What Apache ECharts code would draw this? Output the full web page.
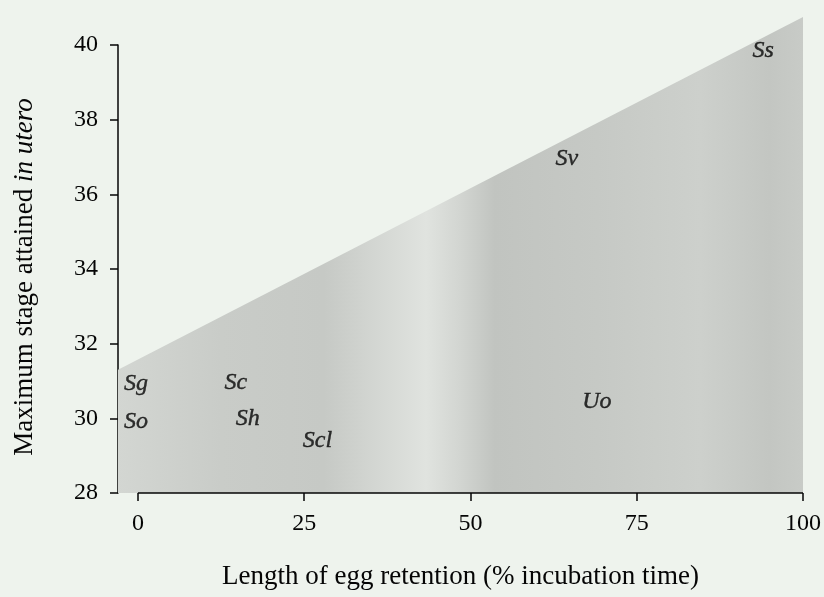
<!DOCTYPE html>
<html>
<head>
<meta charset="utf-8">
<script src="https://cdn.jsdelivr.net/npm/echarts@6/dist/echarts.min.js"></script>
<style>
html,body{margin:0;padding:0;background:#eef3ed;}
#c{width:824px;height:597px;}
</style>
</head>
<body>
<div id="c"></div>
<script>
// Upper bound of the shaded region (x = % incubation time, y = stage)
const boundX = [-3, 100];
const boundY = [31.3, 40.75];
// Species labels
const speciesNames = ["Sg", "So", "Sc", "Sh", "Scl", "Uo", "Sv", "Ss"];
const speciesX = [-0.3, -0.3, 14.7, 16.5, 27, 69, 64.5, 94];
const speciesY = [30.93, 29.92, 30.96, 30.0, 29.41, 30.45, 36.96, 39.84];
// Tick values
const xTicks = [0, 25, 50, 75, 100];
const yMin = 28, yMax = 40, yStep = 2;

const chart = echarts.init(document.getElementById('c'), null, {renderer: 'canvas'});
const serif = '"Liberation Serif", "DejaVu Serif", serif';
const ink = '#050505';

const option = {
  backgroundColor: '#eef3ed',
  animation: false,
  grid: {left: 118, right: 19, top: 45, bottom: 104},
  xAxis: {
    type: 'value', min: -3, max: 100,
    axisLine: {show: false},
    splitLine: {show: false},
    axisTick: {show: true, length: 8, customValues: xTicks, lineStyle: {color: ink, width: 1.5}},
    axisLabel: {customValues: xTicks, margin: 19, color: ink, fontFamily: serif, fontSize: 24},
    name: 'Length of egg retention (% incubation time)',
    nameLocation: 'middle', nameGap: 70,
    nameTextStyle: {color: ink, fontFamily: serif, fontSize: 27}
  },
  yAxis: {
    type: 'value', min: yMin, max: yMax, interval: yStep,
    axisLine: {show: true, onZero: false, lineStyle: {color: ink, width: 1.5}},
    splitLine: {show: false},
    axisTick: {show: true, length: 8, lineStyle: {color: ink, width: 1.5}},
    axisLabel: {margin: 20, color: ink, fontFamily: serif, fontSize: 24},
    name: '{a|Maximum stage attained }{b|in utero}',
    nameLocation: 'middle', nameGap: 80, nameRotate: 90,
    nameTextStyle: {
      color: ink, fontFamily: serif, fontSize: 27,
      padding: [0, 16, 0, 0],
      rich: {
        a: {fontFamily: serif, fontSize: 27, color: ink},
        b: {fontFamily: serif, fontSize: 27, color: ink, fontStyle: 'italic'}
      }
    }
  },
  series: [
    {
      type: 'line',
      data: boundX.map((x, i) => [x, boundY[i]]),
      symbol: 'none',
      clip: false,
      lineStyle: {width: 0},
      silent: true,
      areaStyle: {
        origin: 'start',
        opacity: 1,
        color: new echarts.graphic.LinearGradient(0, 0, 1, 0, [
          {offset: 0.00, color: '#d3d6d2'},
          {offset: 0.15, color: '#c9ccc8'},
          {offset: 0.30, color: '#c6c9c5'},
          {offset: 0.38, color: '#d4d7d3'},
          {offset: 0.45, color: '#e0e3df'},
          {offset: 0.50, color: '#d2d5d1'},
          {offset: 0.55, color: '#c1c4c0'},
          {offset: 0.70, color: '#c6c9c5'},
          {offset: 0.85, color: '#cdd0cc'},
          {offset: 0.95, color: '#c3c6c2'},
          {offset: 1.00, color: '#c8cbc7'}
        ])
      },
      z: 1
    },
    {
      type: 'line',
      data: [[xTicks[0], yMin], [xTicks[xTicks.length - 1], yMin]],
      symbol: 'none',
      silent: true,
      clip: false,
      lineStyle: {color: ink, width: 1.5},
      z: 5
    },
    {
      type: 'scatter',
      data: speciesNames.map((n, i) => ({name: n, value: [speciesX[i], speciesY[i]]})),
      symbolSize: 1,
      itemStyle: {color: 'rgba(0,0,0,0)'},
      silent: true,
      label: {
        show: true, position: 'inside',
        formatter: p => p.name,
        color: ink, fontFamily: serif, fontSize: 24, fontStyle: 'italic',
        textBorderWidth: 0.4, textBorderColor: ink
      },
      z: 6
    }
  ]
};
chart.setOption(option);
</script>
</body>
</html>
